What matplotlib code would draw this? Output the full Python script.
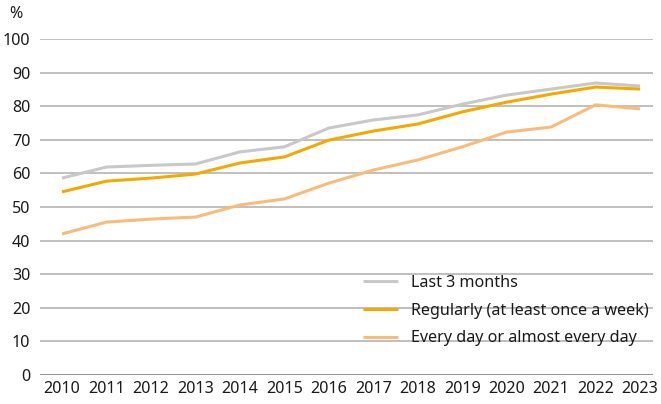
import matplotlib
matplotlib.use("Agg")
import matplotlib.pyplot as plt

years = list(range(2010, 2024))
last3 = [58.6, 61.9, 62.4, 62.8, 66.4, 67.9, 73.5, 75.9, 77.4, 80.6, 83.3, 85.1, 86.9, 86.0]
regular = [54.5, 57.7, 58.6, 59.8, 63.1, 64.9, 69.9, 72.6, 74.7, 78.3, 81.2, 83.6, 85.7, 85.1]
daily = [42.0, 45.5, 46.4, 47.0, 50.6, 52.4, 57.1, 61.0, 64.0, 67.9, 72.3, 73.8, 80.4, 79.2]
labels = ["Last 3 months", "Regularly (at least once a week)", "Every day or almost every day"]
colors = ["#c8c8c8", "#f2a900", "#f8bc7a"]
yticks = list(range(0, 101, 10))

plt.rcParams['font.family'] = ['Noto Sans', 'DejaVu Sans']
fig = plt.figure(figsize=(6.61, 4.04), dpi=100)
ax = fig.add_axes([40/661, 29/404, 613/661, 336/404])

for v in yticks:
    ax.axhline(v, color="#b4b4b4" if v else "#909090", lw=1.2 if v else 1.4, zorder=0)

for data, lab, c in zip([last3, regular, daily], labels, colors):
    ax.plot(years, data, color=c, lw=2.2, label=lab, solid_capstyle="butt")

ax.set_xlim(2009.505, 2023.29)
ax.set_ylim(0, 100)
ax.set_yticks(yticks)
ax.set_xticks(years)
ax.tick_params(length=0, labelsize=11.6, colors="#1a1a1a", pad=4)
ax.tick_params(axis='y', pad=7)
for s in ax.spines.values():
    s.set_visible(False)
ax.text(9/661, 1 - 14/404, "%", transform=fig.transFigure, fontsize=11.6, ha="left", va="center", color="#1a1a1a")

leg = ax.legend(loc="upper left", bbox_to_anchor=(323/613, (375-275)/336), frameon=False,
                fontsize=11.6, handlelength=2.2, handletextpad=0.75, labelspacing=0.72,
                borderaxespad=0, borderpad=0)
for t in leg.get_texts():
    t.set_color("#1a1a1a")

fig.savefig("out.png", dpi=100)
